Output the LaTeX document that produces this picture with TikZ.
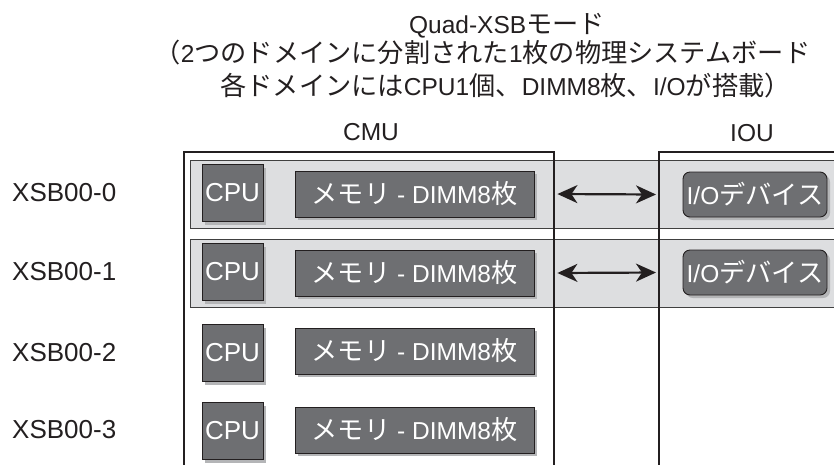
\documentclass[tikz,border=0pt]{standalone}
\usepackage{fontspec}
\setmainfont{Liberation Sans}
\newfontfamily\cjkfont[Scale=1.07]{Noto Sans CJK JP}
\newfontfamily\cjkhalf[Scale=1.07,RawFeature=+halt]{Noto Sans CJK JP}
\newcommand\jp[1]{{\cjkfont #1}}
\newcommand\jph[1]{{\cjkhalf #1}}
\usetikzlibrary{arrows.meta,shadows}

\definecolor{boxgray}{RGB}{110,111,114}
\definecolor{bandgray}{RGB}{221,222,224}
\definecolor{shadowgray}{RGB}{180,181,183}
\definecolor{inkblack}{RGB}{35,31,32}

\begin{document}
\begin{tikzpicture}[x=1pt, y=-1pt,
  lbl/.style={font=\fontsize{24.5}{28}\selectfont, text=inkblack, inner sep=0pt},
  unit/.style={draw=inkblack, line width=2.4pt, anchor=north west, inner sep=0pt},
  band/.style={draw=black!75, line width=0.9pt, fill=bandgray, anchor=north west,
    minimum width=700pt, minimum height=68pt, inner sep=0pt},
  part/.style={draw=inkblack, line width=0.9pt, fill=boxgray, text=white,
    font=\fontsize{24.5}{28}\selectfont, inner sep=1pt,
    drop shadow={shadow xshift=3pt, shadow yshift=-3pt, fill=shadowgray, opacity=1}},
  cpubox/.style={part, minimum width=61pt, minimum height=57pt, font=\fontsize{26}{28}\selectfont},
  membox/.style={part, minimum width=239pt, minimum height=46pt},
  iobox/.style={part, rounded corners=7pt, minimum width=144pt, minimum height=45pt},
  link/.style={{Stealth[length=20pt,width=18pt,inset=6pt]}-{Stealth[length=20pt,width=18pt,inset=6pt]},
    line width=2.2pt, draw=inkblack}]

\useasboundingbox (0,0) rectangle (834,464);
\clip (0,0) rectangle (834,464);

% Titel
\node[lbl, anchor=base] (title1) at (507,33) {Quad-XSB\jp{モード}};
\node[lbl, anchor=base] (title2) at (489,62) {\jph{（}2\jp{つのドメインに分割された}1\jp{枚の物理システムボード}};
\node[lbl, anchor=base] (title3) at (499,95) {\jp{各ドメインには}CPU1\jp{個、}DIMM8\jp{枚、}I/O\jp{が搭載}\jph{）}};

% Einheiten
\node[lbl, anchor=base] (cmulabel) at (371,140) {CMU};
\node[lbl, anchor=base] (ioulabel) at (752,141) {IOU};

% Domaenen (XSB00-0, XSB00-1)
\node[band] (band0) at (190,160) {};
\node[band] (band1) at (190,239) {};

% Rahmen CMU / IOU
\node[unit, minimum width=370pt, minimum height=340pt] (cmu) at (183,151) {};
\node[unit, minimum width=220pt, minimum height=340pt] (iou) at (658,151) {};

% XSB-Bezeichnungen
\node[lbl, anchor=west, font=\fontsize{26}{28}\selectfont] (xsb0) at (12,193) {XSB00-0};
\node[lbl, anchor=west, font=\fontsize{26}{28}\selectfont] (xsb1) at (12,272) {XSB00-1};
\node[lbl, anchor=west, font=\fontsize{26}{28}\selectfont] (xsb2) at (12,353) {XSB00-2};
\node[lbl, anchor=west, font=\fontsize{26}{28}\selectfont] (xsb3) at (12,430) {XSB00-3};

% CPU
\node[cpubox] (cpu0) at (232.5,193) {CPU};
\node[cpubox] (cpu1) at (232.5,272) {CPU};
\node[cpubox] (cpu2) at (232.5,353) {CPU};
\node[cpubox] (cpu3) at (232.5,431) {CPU};

% Speicher
\node[membox] (mem0) at (414.5,194) {\jp{メモリ} - DIMM8\jp{枚}};
\node[membox] (mem1) at (414.5,273) {\jp{メモリ} - DIMM8\jp{枚}};
\node[membox] (mem2) at (414.5,351) {\jp{メモリ} - DIMM8\jp{枚}};
\node[membox] (mem3) at (414.5,430) {\jp{メモリ} - DIMM8\jp{枚}};

% I/O-Geraete
\node[iobox] (io0) at (755,194.5) {I/O\jp{デバイス}};
\node[iobox] (io1) at (755,272.5) {I/O\jp{デバイス}};

% Verbindungen CMU <-> IOU
\draw[link, shorten <=2pt, shorten >=2pt] (cmu.east |- mem0.east) -- (iou.west |- io0.west);
\draw[link, shorten <=2pt, shorten >=2pt] (cmu.east |- mem1.east) -- (iou.west |- io1.west);

\end{tikzpicture}
\end{document}
